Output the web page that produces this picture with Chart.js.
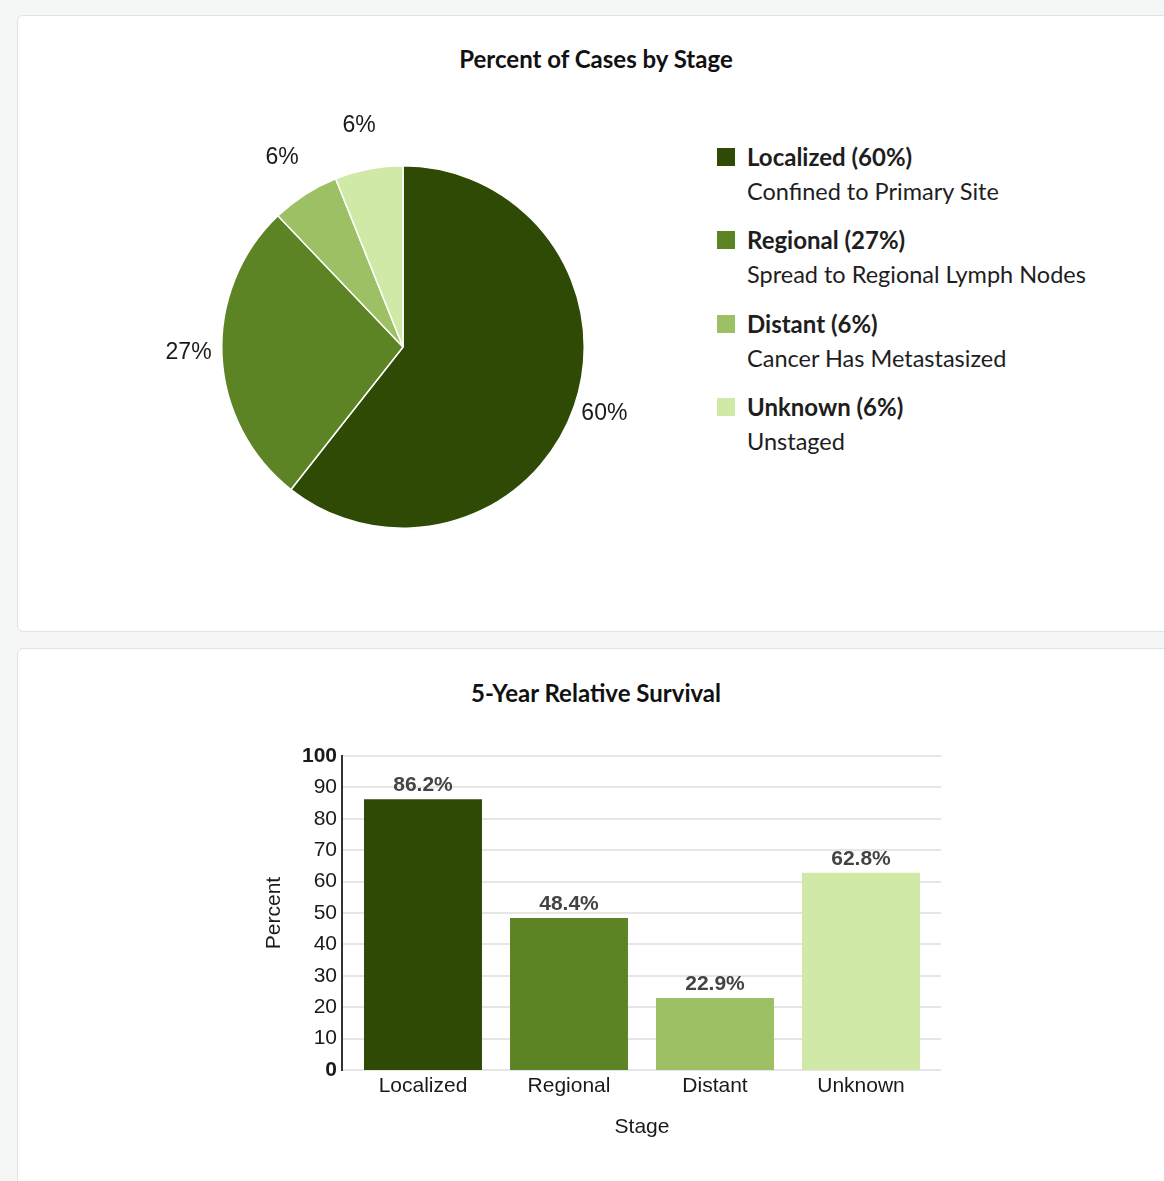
<!DOCTYPE html>
<html>
<head>
<meta charset="utf-8">
<script src="https://cdn.jsdelivr.net/npm/chart.js@4.4.1/dist/chart.umd.min.js"></script>
<style>
    html, body {
        margin: 0;
        padding: 0;
        width: 1164px;
        height: 1181px;
        overflow: hidden;
        background: #f5f7f6;
    }
    .card {
        position: absolute;
        left: 17px;
        width: 1158px;
        background: #fff;
        border: 1px solid #e1e3e2;
        border-radius: 6px;
        box-sizing: border-box;
    }
    .card-title {
        position: absolute;
        left: 17px;
        width: 1158px;
        text-align: center;
        font-family: Lato, "Noto Sans", sans-serif;
        font-weight: 700;
        font-size: 24px;
        line-height: 30px;
        color: #111;
    }
    .chart-box { position: absolute; }
    #legend {
        position: absolute;
        left: 717px;
        top: 145px;
        font-family: Lato, "Noto Sans", sans-serif;
        color: #1e1e1e;
    }
    .legend-item {
        position: relative;
        height: 83.3px;
    }
    .legend-swatch {
        position: absolute;
        left: 0;
        top: 3px;
        width: 18px;
        height: 18px;
    }
    .legend-name {
        position: absolute;
        left: 30px;
        top: -3px;
        font-weight: 700;
        font-size: 24px;
        line-height: 30px;
        white-space: nowrap;
    }
    .legend-desc {
        position: absolute;
        left: 30px;
        top: 31px;
        font-size: 23.5px;
        line-height: 30px;
        white-space: nowrap;
    }
</style>
</head>
<body>
<div class="card" style="top: 15px; height: 617px;"></div>
<div class="card" style="top: 648px; height: 600px;"></div>

<div class="card-title" style="top: 44px;">Percent of Cases by Stage</div>
<div class="chart-box" style="left: 143px; top: 87px; width: 520px; height: 520px;">
    <canvas id="chart-stage"></canvas>
</div>
<div id="legend"></div>

<div class="card-title" style="top: 678px;">5-Year Relative Survival</div>
<div class="chart-box" style="left: 200px; top: 726px; width: 760px; height: 435px;">
    <canvas id="chart-survival"></canvas>
</div>

<script>
const stages = ["Localized", "Regional", "Distant", "Unknown"];
const stageDescriptions = ["Confined to Primary Site", "Spread to Regional Lymph Nodes", "Cancer Has Metastasized", "Unstaged"];
const casePercents = [60, 27, 6, 6];
const survivalPercents = [86.2, 48.4, 22.9, 62.8];
const stageColors = ["#2f4a05", "#5c8424", "#9dc064", "#d0e9a7"];

const chartFont = "'Liberation Sans', Arial, sans-serif";

// Legend for the pie (bold name + description line)
function buildLegend() {
    const container = document.getElementById("legend");
    stages.forEach((s, i) => {
        const item = document.createElement("div");
        item.className = "legend-item";
        item.innerHTML = `
            <div class="legend-swatch" style="background:${stageColors[i]}"></div>
            <div class="legend-name">${s} (${casePercents[i]}%)</div>
            <div class="legend-desc">${stageDescriptions[i]}</div>
        `;
        container.appendChild(item);
    });
}

// Percent labels outside each slice
const pieLabels = {
    id: "pieLabels",
    afterDatasetsDraw(chart) {
        const ctx = chart.ctx;
        const arcs = chart.getDatasetMeta(0).data;
        ctx.save();
        ctx.font = `23px ${chartFont}`;
        ctx.fillStyle = "#1a1a1a";
        ctx.textAlign = "center";
        ctx.textBaseline = "middle";
        arcs.forEach((arc, i) => {
            const a = (arc.startAngle + arc.endAngle) / 2;
            const d = arc.outerRadius + 31 + 9 * Math.abs(Math.sin(a));
            const x = arc.x + d * Math.cos(a) - 2;
            const y = arc.y + d * Math.sin(a) - 4;
            ctx.fillText(`${casePercents[i]}%`, x, y);
        });
        ctx.restore();
    }
};

// Grid lines slightly wider than the plot, plus the dark y axis line
const barGrid = {
    id: "barGrid",
    beforeDatasetsDraw(chart) {
        const ctx = chart.ctx;
        const area = chart.chartArea;
        const y = chart.scales.y;
        ctx.save();
        ctx.strokeStyle = "#e6e6e6";
        ctx.lineWidth = 2;
        y.ticks.forEach(t => {
            const py = Math.round(y.getPixelForValue(t.value));
            ctx.beginPath();
            ctx.moveTo(area.left - 8, py);
            ctx.lineTo(area.right + 7, py);
            ctx.stroke();
        });
        ctx.restore();
    },
    afterDatasetsDraw(chart) {
        const ctx = chart.ctx;
        const area = chart.chartArea;
        ctx.save();
        ctx.strokeStyle = "#333";
        ctx.lineWidth = 2;
        ctx.beginPath();
        ctx.moveTo(area.left - 8, area.top - 1);
        ctx.lineTo(area.left - 8, area.bottom + 1);
        ctx.stroke();
        ctx.restore();
    }
};

// Value labels on top of bars
const barLabels = {
    id: "barLabels",
    afterDatasetsDraw(chart) {
        const ctx = chart.ctx;
        const bars = chart.getDatasetMeta(0).data;
        ctx.save();
        ctx.font = `bold 21px ${chartFont}`;
        ctx.fillStyle = "#444";
        ctx.textAlign = "center";
        ctx.textBaseline = "middle";
        bars.forEach((b, i) => {
            ctx.fillText(`${survivalPercents[i]}%`, b.x, b.y - 14);
        });
        ctx.restore();
    }
};

function renderStageChart() {
    const ctx = document.getElementById("chart-stage").getContext("2d");
    new Chart(ctx, {
        type: "pie",
        data: {
            labels: stages,
            datasets: [{
                data: casePercents,
                backgroundColor: stageColors,
                borderColor: "#fff",
                borderWidth: 1.5
            }]
        },
        options: {
            responsive: true,
            maintainAspectRatio: false,
            animation: false,
            layout: { padding: 78 },
            plugins: {
                legend: { display: false },
                tooltip: { enabled: false }
            }
        },
        plugins: [pieLabels]
    });
}

function renderSurvivalChart() {
    const ctx = document.getElementById("chart-survival").getContext("2d");
    new Chart(ctx, {
        type: "bar",
        data: {
            labels: stages,
            datasets: [{
                data: survivalPercents,
                backgroundColor: stageColors,
                borderWidth: 0,
                categoryPercentage: 1,
                barPercentage: 0.808
            }]
        },
        options: {
            responsive: true,
            maintainAspectRatio: false,
            animation: false,
            layout: { padding: { top: 30, right: 26, bottom: 0, left: 0 } },
            scales: {
                y: {
                    min: 0,
                    max: 100,
                    ticks: {
                        stepSize: 10,
                        padding: 13,
                        color: "#1a1a1a",
                        font: c => ({
                            family: chartFont,
                            size: 21,
                            weight: (c.tick && (c.tick.value === 0 || c.tick.value === 100)) ? "bold" : "normal"
                        })
                    },
                    grid: { display: false, drawTicks: false },
                    border: { display: false },
                    title: {
                        display: true,
                        text: "Percent",
                        color: "#1a1a1a",
                        font: { family: chartFont, size: 21 },
                        padding: { top: 62, bottom: 0 }
                    },
                    afterFit: s => { s.width = 150; }
                },
                x: {
                    ticks: {
                        padding: 4,
                        color: "#1a1a1a",
                        font: { family: chartFont, size: 21 }
                    },
                    grid: { display: false, drawTicks: false },
                    border: { display: false },
                    title: {
                        display: true,
                        text: "Stage",
                        color: "#1a1a1a",
                        font: { family: chartFont, size: 21 },
                        padding: { top: 0, bottom: 21 }
                    },
                    afterFit: s => { s.height = 91; }
                }
            },
            plugins: {
                legend: { display: false },
                tooltip: { enabled: false }
            }
        },
        plugins: [barGrid, barLabels]
    });
}

buildLegend();
renderStageChart();
renderSurvivalChart();
</script>
</body>
</html>
